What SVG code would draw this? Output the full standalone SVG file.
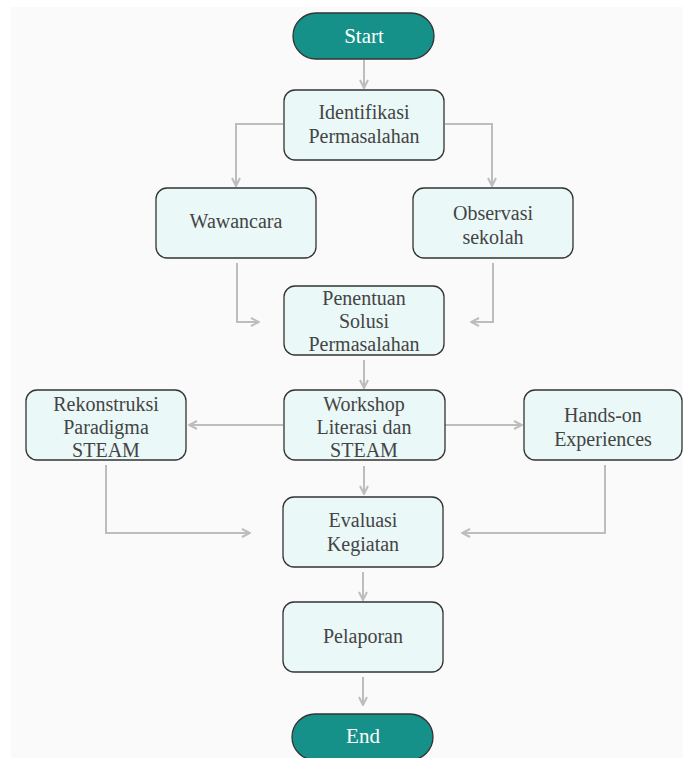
<svg xmlns="http://www.w3.org/2000/svg" width="683" height="758" viewBox="0 0 683 758">
<defs>
<style>
.box{fill:#eaf8f8;stroke:#333;stroke-width:1.3}
.term{fill:#16918a;stroke:#333;stroke-width:1.3}
.t{font-family:"Liberation Serif","Times New Roman",serif;font-size:20px;fill:#444;text-anchor:middle}
.tw{font-family:"Liberation Serif","Times New Roman",serif;font-size:21px;fill:#ffffff;text-anchor:middle}
.c{fill:none;stroke:#bdbdbd;stroke-width:2;marker-end:url(#ah)}
</style>
<marker id="ah" viewBox="0 0 10 10" refX="9" refY="5" markerWidth="5" markerHeight="5" orient="auto" markerUnits="strokeWidth">
<path d="M1,1 L9,5 L1,9" fill="none" stroke="#bdbdbd" stroke-width="2"/>
</marker>
</defs>
<rect x="11" y="7" width="672" height="751" fill="#fafafa"/>
<g id="connectors">
<path class="c" d="M364,60 V88"/>
<path class="c" d="M283,124 H236 V186"/>
<path class="c" d="M445,124 H492 V186"/>
<path class="c" d="M237,263 V322 H259"/>
<path class="c" d="M493,263 V322 H471"/>
<path class="c" d="M364,360 V388"/>
<path class="c" d="M283,425 H189"/>
<path class="c" d="M445,425 H522"/>
<path class="c" d="M364,466 V494"/>
<path class="c" d="M106,465 V533 H250"/>
<path class="c" d="M605,465 V533 H462"/>
<path class="c" d="M363,572 V600"/>
<path class="c" d="M363,677 V705"/>
</g>
<g id="start"><rect class="term" x="293" y="13" width="141" height="46" rx="23"/><text class="tw" x="364" y="43">Start</text></g>
<g id="identifikasi"><rect class="box" x="284" y="90" width="160" height="70" rx="11"/><text class="t" x="364" y="119">Identifikasi</text><text class="t" x="364" y="143">Permasalahan</text></g>
<g id="wawancara"><rect class="box" x="156" y="188" width="160" height="70" rx="11"/><text class="t" x="236" y="228">Wawancara</text></g>
<g id="observasi"><rect class="box" x="413" y="188" width="160" height="70" rx="11"/><text class="t" x="493" y="220">Observasi</text><text class="t" x="493" y="244">sekolah</text></g>
<g id="penentuan"><rect class="box" x="284" y="286" width="160" height="69" rx="11"/><text class="t" x="364" y="305">Penentuan</text><text class="t" x="364" y="328">Solusi</text><text class="t" x="364" y="351">Permasalahan</text></g>
<g id="workshop"><rect class="box" x="284" y="390" width="161" height="70" rx="11"/><text class="t" x="364" y="411">Workshop</text><text class="t" x="364" y="434">Literasi dan</text><text class="t" x="364" y="457">STEAM</text></g>
<g id="rekonstruksi"><rect class="box" x="26" y="390" width="160" height="70" rx="11"/><text class="t" x="106" y="411">Rekonstruksi</text><text class="t" x="106" y="434">Paradigma</text><text class="t" x="106" y="457">STEAM</text></g>
<g id="handson"><rect class="box" x="524" y="390" width="158" height="70" rx="11"/><text class="t" x="603" y="422">Hands-on</text><text class="t" x="603" y="446">Experiences</text></g>
<g id="evaluasi"><rect class="box" x="283" y="497" width="160" height="70" rx="11"/><text class="t" x="363" y="527">Evaluasi</text><text class="t" x="363" y="551">Kegiatan</text></g>
<g id="pelaporan"><rect class="box" x="283" y="602" width="160" height="70" rx="11"/><text class="t" x="363" y="643">Pelaporan</text></g>
<g id="end"><rect class="term" x="292" y="714" width="141" height="46" rx="23"/><text class="tw" x="363" y="743">End</text></g>
</svg>
